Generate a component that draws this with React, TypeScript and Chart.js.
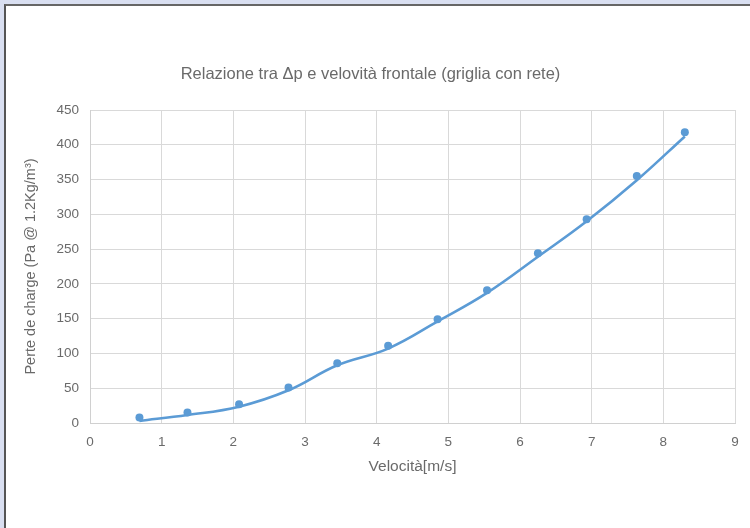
import React, { useEffect, useRef } from "react";
import { Chart, registerables } from "chart.js";

Chart.register(...registerables);

// Measured points (markers)
const velocity = [0.69, 1.36, 2.08, 2.77, 3.45, 4.16, 4.85, 5.54, 6.25, 6.93, 7.63, 8.3];
const measuredDp = [8, 15, 27, 51, 86, 111, 149, 191, 244, 293, 355, 418];
// Smoothed trend curve (line)
const curveDp = [3, 11.5, 23.5, 47, 83, 107, 146, 187, 239, 290, 349, 412];

const titleText = "Relazione tra \u0394p e velovit\u00e0 frontale (griglia con rete)";
const xTitle = "Velocit\u00e0[m/s]";
const yTitle = "Perte de charge (Pa @ 1.2Kg/m\u00b3)";

const xMin = 0, xMax = 9, xStep = 1;
const yMin = 0, yMax = 450, yStep = 50;

const FONT = "'Liberation Sans', 'DejaVu Sans', sans-serif";
const TEXT = "#6a6a6a";
const BLUE = "#5b9bd5";

export default function App() {
  const ref = useRef<HTMLCanvasElement | null>(null);

  useEffect(() => {
    if (!ref.current) return;
    const chart = new Chart(ref.current, {
      type: "scatter",
      data: {
        datasets: [
          {
            label: "misure",
            data: velocity.map((x, i) => ({ x, y: measuredDp[i] })),
            showLine: false,
            pointRadius: 4,
            pointBackgroundColor: BLUE,
            pointBorderColor: BLUE,
            pointBorderWidth: 0,
          },
          {
            label: "curva",
            data: velocity.map((x, i) => ({ x, y: curveDp[i] })),
            showLine: true,
            tension: 0.4,
            borderColor: BLUE,
            borderWidth: 2.6,
            pointRadius: 0,
            fill: false,
          },
        ],
      },
      options: {
        responsive: false,
        animation: false,
        layout: { padding: { left: 0, right: 15, top: 0, bottom: 0 } },
        plugins: {
          legend: { display: false },
          tooltip: { enabled: false },
          title: {
            display: true,
            text: titleText,
            color: TEXT,
            font: { family: FONT, size: 16.5, weight: "normal", lineHeight: 1.2 },
            padding: { top: 65, bottom: 25.2 },
          },
        },
        scales: {
          x: {
            type: "linear",
            min: xMin,
            max: xMax,
            ticks: { stepSize: xStep, color: TEXT, font: { family: FONT, size: 13.5 }, padding: 11 },
            grid: { color: "#d9d9d9", drawTicks: false, lineWidth: 1 },
            border: { color: "#d0d0d0" },
            title: {
              display: true,
              text: xTitle,
              color: TEXT,
              font: { family: FONT, size: 15.5 },
              padding: { top: 0, bottom: 52 },
            },
            afterFit: (s: any) => {
              s.height = 105;
            },
          },
          y: {
            type: "linear",
            min: yMin,
            max: yMax,
            ticks: { stepSize: yStep, color: TEXT, font: { family: FONT, size: 13.5 }, padding: 11 },
            grid: { color: "#d9d9d9", drawTicks: false, lineWidth: 1 },
            border: { color: "#d0d0d0" },
            title: {
              display: true,
              text: yTitle,
              color: TEXT,
              font: { family: FONT, size: 14.5 },
              padding: { top: 16, bottom: 0 },
            },
            afterFit: (s: any) => {
              s.width = 84;
            },
          },
        },
      },
    });
    return () => chart.destroy();
  }, []);

  return (
    <div
      style={{
        position: "fixed",
        left: 0,
        top: 0,
        width: 750,
        height: 528,
        background: "#d9dff1",
        overflow: "hidden",
      }}
    >
      <div
        style={{
          position: "absolute",
          left: 4,
          top: 4,
          width: 750,
          height: 530,
          background: "#ffffff",
          borderTop: "2px solid #666666",
          borderLeft: "2px solid #555555",
          boxSizing: "border-box",
        }}
      />
      <canvas
        ref={ref}
        width={744}
        height={528}
        style={{ position: "absolute", left: 6, top: 0, width: 744, height: 528 }}
      />
    </div>
  );
}
